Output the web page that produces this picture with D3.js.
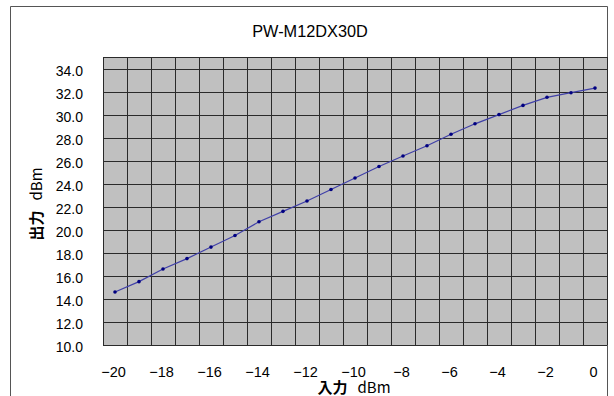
<!DOCTYPE html>
<meta charset="utf-8">
<head>
    <title>PW-M12DX30D</title>
    <script src="https://d3js.org/d3.v7.min.js"></script>
    <style>
        body { margin: 0; background: #fff; }
        text { font-family: "Liberation Sans", Arial, sans-serif; fill: #000; }
        .jp { font-family: "Noto Sans CJK JP", sans-serif; }
    </style>
</head>

<body>
    <div id="svg-container"></div>
</body>

<script>

const width = 614;
const height = 396;

// input level (dBm) and measured output (dBm)
const inputs = [-20, -19, -18, -17, -16, -15, -14, -13, -12, -11, -10,
                -9, -8, -7, -6, -5, -4, -3, -2, -1, 0];
const outputs = [14.6, 15.5, 16.6, 17.5, 18.5, 19.5, 20.7, 21.6, 22.5, 23.5, 24.5,
                 25.5, 26.4, 27.3, 28.3, 29.2, 30.0, 30.8, 31.5, 31.9, 32.3];
const xTickLabels = [-20, -18, -16, -14, -12, -10, -8, -6, -4, -2, 0];
const yTicks = [10, 12, 14, 16, 18, 20, 22, 24, 26, 28, 30, 32, 34];

const plot = { left: 103, top: 57, right: 607, bottom: 345 };

const svg = d3.select("#svg-container")
              .append("svg")
                .attr("width", width)
                .attr("height", height);

// chart frame
svg.append("path")
    .attr("d", `M10.5,${height} V6.5 H607.5 V${height}`)
    .attr("fill", "none")
    .attr("stroke", "#555")
    .attr("stroke-width", 1);

const x = d3.scaleBand()
            .domain(inputs)
            .range([plot.left, plot.right]);

const y = d3.scaleLinear()
            .domain([10, 35])
            .range([plot.bottom, plot.top]);

svg.append("rect")
    .attr("x", plot.left)
    .attr("y", plot.top)
    .attr("width", plot.right - plot.left)
    .attr("height", plot.bottom - plot.top)
    .attr("fill", "#c0c0c0");

// vertical grid at category boundaries
const vLines = inputs.map(function(d) { return x(d); }).concat([plot.right]);
svg.append("g")
    .selectAll("line")
    .data(vLines).enter()
    .append("line")
        .attr("x1", function(d) { return Math.round(d) + 0.5; })
        .attr("x2", function(d) { return Math.round(d) + 0.5; })
        .attr("y1", plot.top)
        .attr("y2", plot.bottom)
        .attr("stroke", "#2a2a2a");

// horizontal grid
svg.append("g")
    .selectAll("line")
    .data(yTicks.concat([35])).enter()
    .append("line")
        .attr("x1", plot.left)
        .attr("x2", plot.right)
        .attr("y1", function(d) { return Math.round(y(d)) + 0.5; })
        .attr("y2", function(d) { return Math.round(y(d)) + 0.5; })
        .attr("stroke", "#2a2a2a");

// y axis labels
const yAxis = d3.axisLeft(y)
                .tickValues(yTicks)
                .tickFormat(d3.format(".1f"))
                .tickSize(0)
                .tickPadding(20);
svg.append("g")
    .attr("transform", `translate(${plot.left},0)`)
    .call(yAxis)
    .call(function(g) { g.select(".domain").remove(); })
    .selectAll("text")
        .attr("dy", "0.48em")
        .style("font-family", "'Liberation Sans', Arial, sans-serif")
        .style("font-size", "14px");

// x axis labels
const xAxis = d3.axisBottom(x)
                .tickValues(xTickLabels)
                .tickFormat(d3.format("d"))
                .tickSize(0)
                .tickPadding(22);
svg.append("g")
    .attr("transform", `translate(-1.5,${plot.bottom})`)
    .call(xAxis)
    .call(function(g) { g.select(".domain").remove(); })
    .selectAll("text")
        .style("font-family", "'Liberation Sans', Arial, sans-serif")
        .style("font-size", "14.5px");

// data line
const cx = function(d, i) { return x(inputs[i]) + x.bandwidth() / 2; };
const line = d3.line()
               .x(cx)
               .y(function(d) { return y(d); });

svg.append("path")
    .datum(outputs)
    .attr("d", line)
    .attr("fill", "none")
    .attr("stroke", "#4040a8")
    .attr("stroke-width", 1.2);

svg.append("g")
    .selectAll("circle")
    .data(outputs).enter()
    .append("circle")
        .attr("cx", cx)
        .attr("cy", function(d) { return y(d); })
        .attr("r", 1.8)
        .attr("fill", "#000080");

// titles
svg.append("text")
    .attr("x", 310)
    .attr("y", 37)
    .attr("text-anchor", "middle")
    .style("font-size", "16.3px")
    .text("PW-M12DX30D");

svg.append("text")
    .attr("class", "jp")
    .attr("transform", "translate(42,204) rotate(-90)")
    .attr("text-anchor", "middle")
    .style("font-size", "15px")
    .html('<tspan style="font-weight:bold">出力</tspan><tspan dx="10">dBm</tspan>');

svg.append("text")
    .attr("class", "jp")
    .attr("x", 354)
    .attr("y", 393)
    .attr("text-anchor", "middle")
    .style("font-size", "15px")
    .html('<tspan style="font-weight:bold">入力</tspan><tspan dx="10">dBm</tspan>');

</script>
